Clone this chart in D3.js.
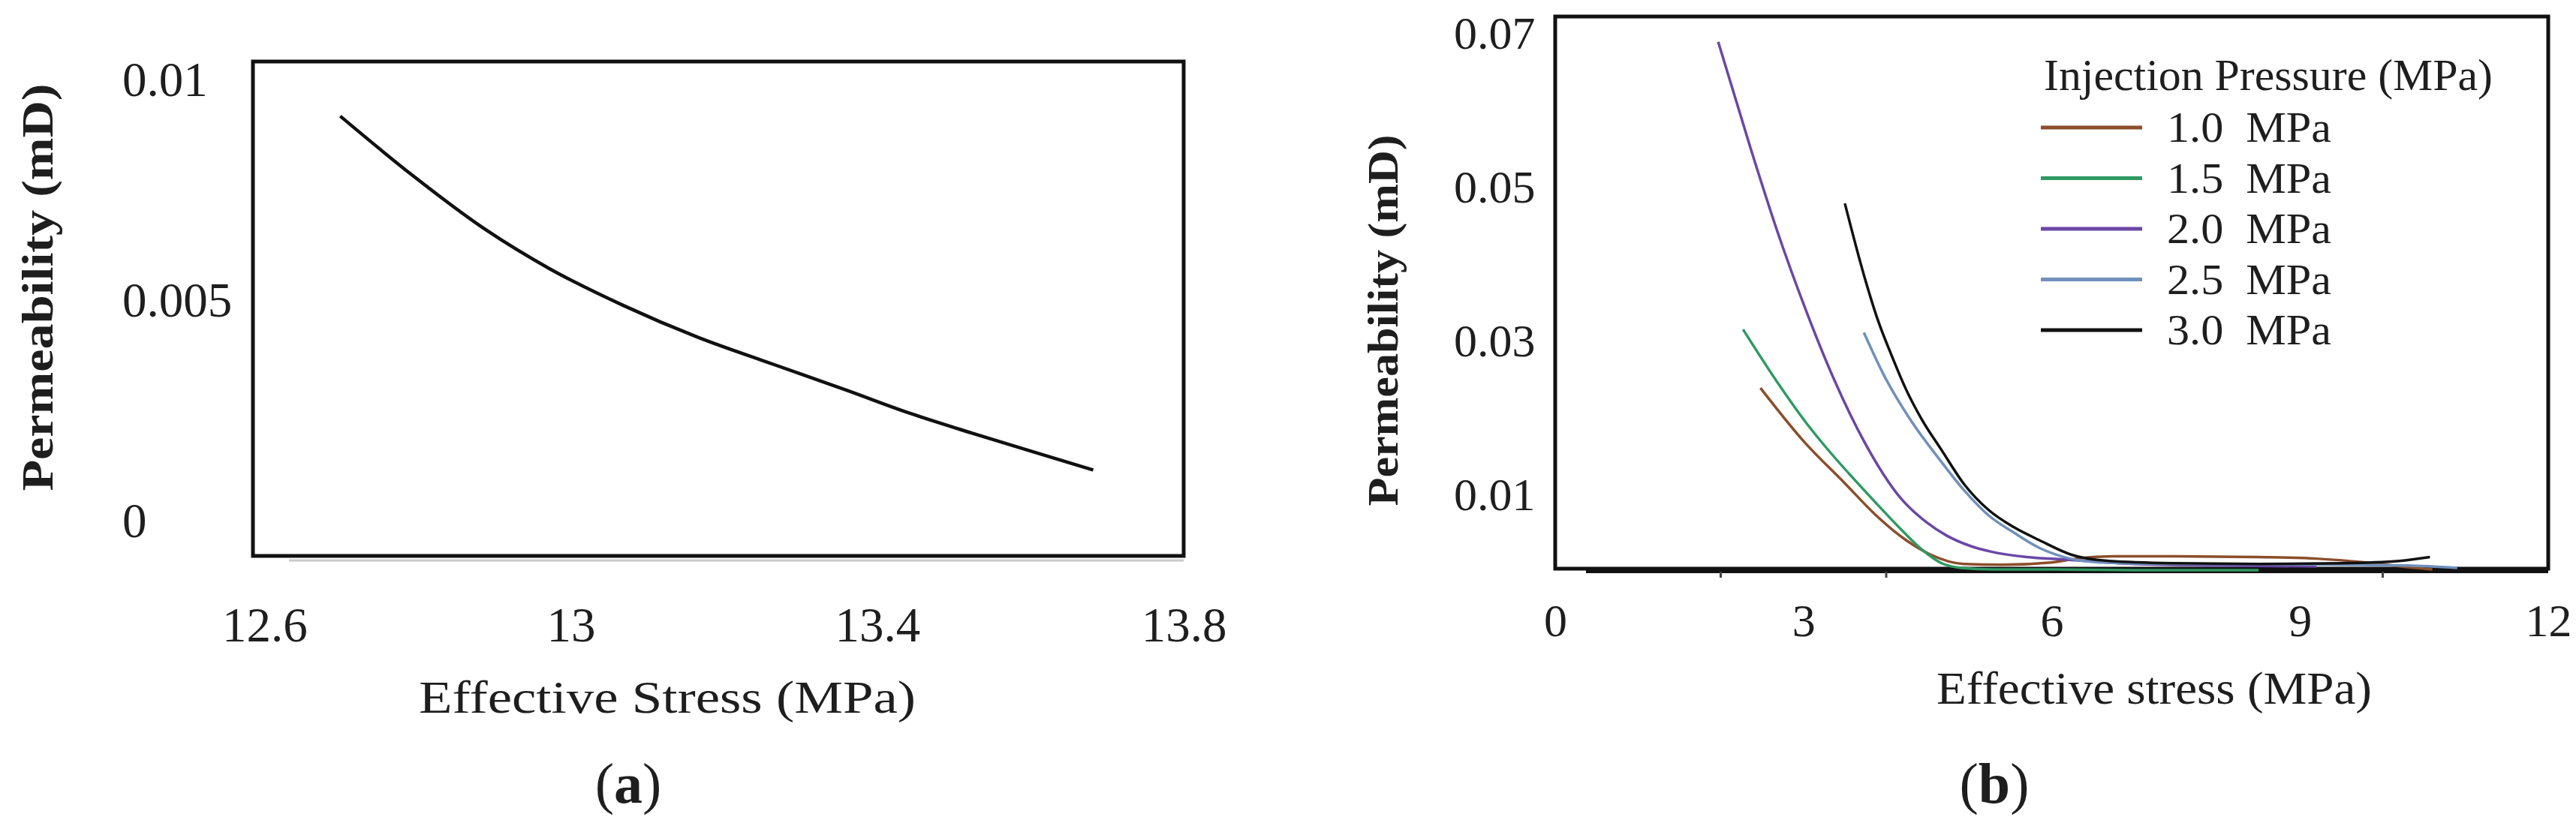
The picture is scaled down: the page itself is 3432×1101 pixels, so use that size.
<!DOCTYPE html>
<html>
<head>
<meta charset="utf-8">
<script src="https://d3js.org/d3.v7.min.js"></script>
<style>
body { margin: 0; background: #fff; }
svg text { font-family: "Liberation Serif", "Times New Roman", serif; fill: #1e1e1e; }
</style>
</head>
<body>
<svg id="chart" width="3432" height="1101"></svg>
<script>
// ---- panel (a): single curve ----
const stressA = [12.699, 12.793, 12.890, 12.971, 13.069, 13.166, 13.264, 13.360, 13.442, 13.523, 13.604, 13.682];
const permA   = [0.00915, 0.00781, 0.00656, 0.00570, 0.00485, 0.00413, 0.00352, 0.00293, 0.00241, 0.00196, 0.00153, 0.00112];
const xTicksA = [12.6, 13, 13.4, 13.8];
const yTicksA = [0, 0.005, 0.01];

// ---- panel (b): one curve per injection pressure ----
const pressures = ["1.0", "1.5", "2.0", "2.5", "3.0"];
const colorsB   = ["#8b4e2b", "#2f9a62", "#6a47a6", "#7090bb", "#111111"];

const stress10 = [2.48, 3.0, 3.5, 3.88, 4.24, 4.54, 4.94, 5.40, 6.0, 6.30, 6.76, 7.5, 8.5, 9.2, 9.8, 10.3, 10.6];
const perm10   = [0.0237, 0.0168, 0.0113, 0.0071, 0.0039, 0.0020, 0.0008, 0.0007, 0.0010, 0.0015, 0.0018, 0.0018, 0.0017, 0.0015, 0.0010, 0.0004, 0.0001];

const stress15 = [2.27, 2.68, 3.03, 3.27, 3.58, 3.88, 4.18, 4.43, 4.67, 4.9, 5.3, 6.0, 7.0, 8.5];
const perm15   = [0.0313, 0.0245, 0.0192, 0.0160, 0.0122, 0.0087, 0.0053, 0.0027, 0.0009, 0.0003, 0.0001, 0.0001, 0.0, 0.0];

const stress20 = [1.97, 2.34, 2.68, 3.03, 3.37, 3.73, 4.18, 4.49, 4.73, 5.03, 5.27, 5.70, 6.15, 7.0, 8.0, 9.2];
const perm20   = [0.0687, 0.0556, 0.0442, 0.0338, 0.0248, 0.0168, 0.0093, 0.0062, 0.0045, 0.0031, 0.0024, 0.0017, 0.0014, 0.0008, 0.0006, 0.0005];

const stress25 = [3.73, 3.97, 4.34, 4.63, 4.94, 5.24, 5.54, 5.85, 6.15, 6.6, 7.5, 8.5, 9.5, 10.3, 10.9];
const perm25   = [0.0309, 0.0254, 0.0188, 0.0146, 0.0104, 0.0071, 0.0049, 0.0029, 0.0017, 0.0010, 0.0008, 0.0008, 0.0007, 0.0006, 0.0003];

const stress30 = [3.50, 3.73, 3.90, 4.07, 4.24, 4.43, 4.67, 4.94, 5.24, 5.54, 5.85, 6.24, 6.7, 7.5, 8.5, 9.5, 10.2, 10.57];
const perm30   = [0.0477, 0.0384, 0.0325, 0.0278, 0.0235, 0.0196, 0.0156, 0.0112, 0.0078, 0.0056, 0.0039, 0.0020, 0.0012, 0.0009, 0.0008, 0.0009, 0.0012, 0.0017];

const xTicksB = [0, 3, 6, 9, 12];
const xMinorB = [2, 4, 10];
const yTicksB = [0.01, 0.03, 0.05, 0.07];

const seriesB = [
  {name: pressures[0], xs: stress10, ys: perm10, color: colorsB[0]},
  {name: pressures[1], xs: stress15, ys: perm15, color: colorsB[1]},
  {name: pressures[2], xs: stress20, ys: perm20, color: colorsB[2]},
  {name: pressures[3], xs: stress25, ys: perm25, color: colorsB[3]},
  {name: pressures[4], xs: stress30, ys: perm30, color: colorsB[4]}
];

const svg = d3.select("#chart");
svg.append("rect").attr("width", 3432).attr("height", 1101).attr("fill", "#fff");

// frames (plot areas)
const fa = {left: 337, right: 1577, top: 82, bottom: 741};
const fb = {left: 2072, right: 3395, top: 22, bottom: 758};

const xA = d3.scaleLinear().domain([12.585, 13.8]).range([fa.left, fa.right]);
const yA = d3.scaleLinear().domain([-0.00083, 0.01039]).range([fa.bottom, fa.top]);
const xB = d3.scaleLinear().domain([0, 12]).range([fb.left, fb.right]);
const yB = d3.scaleLinear().domain([0, 0.072]).range([760, fb.top]);

function frame(f) {
  svg.append("rect")
    .attr("x", f.left).attr("y", f.top)
    .attr("width", f.right - f.left).attr("height", f.bottom - f.top)
    .attr("fill", "none").attr("stroke", "#111").attr("stroke-width", 5);
}

function yLabels(scale, ticks, fmt, x, size) {
  const g = svg.append("g").attr("transform", `translate(${x},0)`);
  g.call(d3.axisLeft(scale).tickValues(ticks).tickFormat(fmt).tickSize(0).tickPadding(0));
  g.select(".domain").remove();
  g.selectAll("text")
    .attr("text-anchor", "start").attr("x", 0).attr("dy", "0.35em")
    .attr("font-size", size);
}

function xLabels(scale, ticks, fmt, y, size) {
  const g = svg.append("g").attr("transform", `translate(0,${y})`);
  g.call(d3.axisBottom(scale).tickValues(ticks).tickFormat(fmt).tickSize(0).tickPadding(0));
  g.select(".domain").remove();
  g.selectAll("text")
    .attr("y", 0).attr("dy", "0.35em")
    .attr("font-size", size);
}

function title(txt, x, y, size, len, opts = {}) {
  const t = svg.append("text")
    .attr("x", x).attr("y", y)
    .attr("text-anchor", "middle")
    .attr("font-size", size)
    .attr("textLength", len).attr("lengthAdjust", "spacingAndGlyphs")
    .text(txt);
  if (opts.rotate) t.attr("transform", `rotate(-90,${x},${y})`);
  if (opts.bold) t.attr("font-weight", "bold");
  return t;
}

// ---------- panel (a) ----------
frame(fa);
// faint shadow under the bottom border
svg.append("line").attr("x1", 385).attr("x2", fa.right).attr("y1", fa.bottom + 6).attr("y2", fa.bottom + 6)
  .attr("stroke", "#c8c8c8").attr("stroke-width", 3);

svg.append("path")
  .datum(stressA.map((s, i) => [s, permA[i]]))
  .attr("fill", "none").attr("stroke", "#111").attr("stroke-width", 4.5)
  .attr("d", d3.line().x(d => xA(d[0])).y(d => yA(d[1])).curve(d3.curveMonotoneX));

yLabels(yA, yTicksA, d => d === 0 ? "0" : String(d), 163, 65);
xLabels(xA, xTicksA, d => String(d), 832, 65);

title("Effective Stress (MPa)", 889, 950, 62, 662);
title("Permeability (mD)", 70, 383, 60, 543, {rotate: true, bold: true});

const la = svg.append("text").attr("x", 837).attr("y", 1070).attr("text-anchor", "middle").attr("font-size", 76);
la.append("tspan").text("(");
la.append("tspan").attr("font-weight", "bold").text("a");
la.append("tspan").text(")");

// ---------- panel (b) ----------
frame(fb);
svg.append("line").attr("x1", 2113).attr("x2", fb.right).attr("y1", fb.bottom + 4).attr("y2", fb.bottom + 4)
  .attr("stroke", "#111").attr("stroke-width", 4);

svg.append("g").selectAll("line").data(xMinorB).join("line")
  .attr("x1", d => xB(d)).attr("x2", d => xB(d))
  .attr("y1", fb.bottom + 4).attr("y2", fb.bottom + 12)
  .attr("stroke", "#444").attr("stroke-width", 3);

const lineB = d3.line().x(d => xB(d[0])).y(d => yB(d[1])).curve(d3.curveMonotoneX);
svg.append("g").selectAll("path").data(seriesB).join("path")
  .attr("fill", "none")
  .attr("stroke", d => d.color)
  .attr("stroke-width", 3.5)
  .attr("d", d => lineB(d.xs.map((s, i) => [s, d.ys[i]])));

yLabels(yB, yTicksB, d3.format(".2f"), 1937, 62);
xLabels(xB, xTicksB, d => String(d), 826, 62);

title("Effective stress (MPa)", 2870, 938, 62, 580);
title("Permeability (mD)", 1862, 427, 58, 495, {rotate: true, bold: true});

const lb = svg.append("text").attr("x", 2657).attr("y", 1070).attr("text-anchor", "middle").attr("font-size", 76);
lb.append("tspan").text("(");
lb.append("tspan").attr("font-weight", "bold").text("b");
lb.append("tspan").text(")");

// legend
svg.append("text").attr("x", 2723).attr("y", 120).attr("font-size", 60)
  .attr("textLength", 598).attr("lengthAdjust", "spacingAndGlyphs")
  .text("Injection Pressure (MPa)");

const leg = svg.append("g").selectAll("g").data(seriesB).join("g")
  .attr("transform", (d, i) => `translate(2719,${170 + i * 67.5})`);
leg.append("line").attr("x1", 0).attr("x2", 135).attr("y1", 0).attr("y2", 0)
  .attr("stroke", d => d.color).attr("stroke-width", 5);
leg.append("text").attr("x", 168).attr("y", 19).attr("font-size", 57)
  .attr("textLength", 219).attr("lengthAdjust", "spacingAndGlyphs")
  .style("white-space", "pre")
  .text(d => `${d.name}  MPa`);
</script>
</body>
</html>
